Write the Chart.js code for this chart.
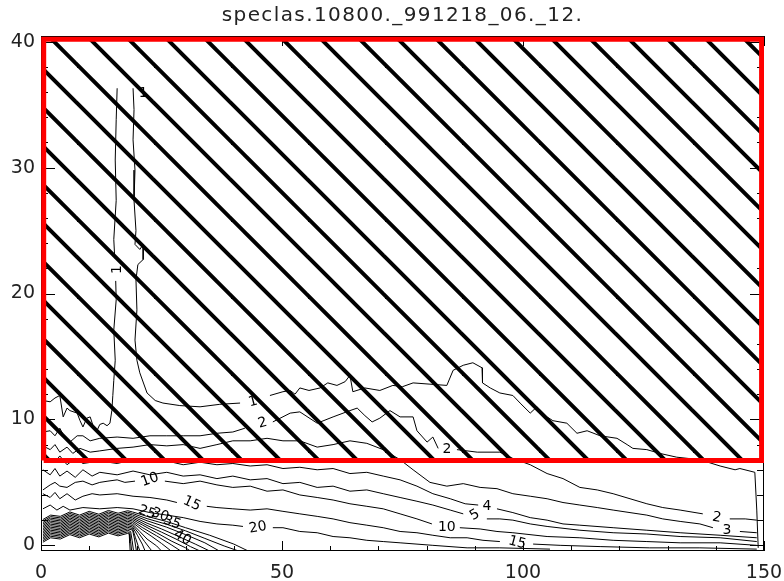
<!DOCTYPE html>
<html>
<head>
<meta charset="utf-8">
<title>speclas.10800._991218_06._12.</title>
<script src="https://cdn.jsdelivr.net/npm/chart.js@4.4.1/dist/chart.umd.min.js"></script>
<style>
  html, body { margin: 0; padding: 0; background: #ffffff; }
  #box { position: relative; width: 784px; height: 581px; }
</style>
</head>
<body>
<div id="box"><canvas id="contourChart" width="784" height="581"></canvas></div>
<script>
const chartTitle = 'speclas.10800._991218_06._12.';
const xTickValues = [0, 50, 100, 150];
const yTickValues = [0, 10, 20, 30, 40];

// masked (hatched) box
const maskX = [0.56, 149.5, 149.5, 0.56, 0.56];
const maskY = [6.74, 6.74, 40.2, 40.2, 6.74];

// contour lines, [x, y]; null breaks the line where a label sits
const contour1a = [[0.4,11.5],[1.9,11.4],[2.9,11.7],[3.9,11.9],[4.6,10.2],[5.4,10.9],[6.0,10.7],[7.5,10.5],[8.1,9.9],[8.7,9.4],[9.5,10.1],[10.2,10.2],[10.8,9.5],[11.6,9.1],[12.2,9.6],[12.9,9.7],[13.7,9.5],[14.3,9.7],[14.7,10.7],[14.9,11.9],[15.1,13.1],[15.4,14.7],[15.1,17.1],[15.6,19.5],[15.5,21.0],null,[15.3,22.8],[15.1,24.3],[15.6,27.4],[15.4,30.6],[15.6,33.8],[15.8,36.3]];
const contour1b = [[19.1,36.3],[19.3,34.6],[19.1,32.2],[19.5,29.8],[19.3,27.4],[19.7,25.0],[19.5,23.9],[20.5,23.5],[21.2,23.9],[21.2,22.7],[20.1,22.3],[19.7,21.1],[19.9,18.7],[19.5,16.3],[19.9,14.7],[20.5,13.7],[22.0,12.1],[23.7,11.5],[25.3,11.3],[28.8,11.1],[33.0,11.0],[37.1,11.2],[41.3,11.3],null,[47.5,11.9],[50.2,12.2],[51.7,12.3],[52.7,12.0],[53.7,12.5],[55.6,12.3],[57.9,12.5],[59.5,12.9],[61.4,12.7],[63.1,13.0],[64.1,13.5],[64.7,12.2],[67.2,12.5],[70.3,12.3],[73.0,12.7],[75.0,12.6],[77.2,12.9],[80.7,12.8],[84.2,12.7],[85.5,13.9],[87.6,14.3],[89.6,14.5],[91.5,14.1],[91.7,13.3],[91.5,12.9],[93.2,12.5],[95.2,12.1],[97.9,11.9],[99.4,11.3],[101.5,10.5],[102.9,11.0],[105.0,10.2],[106.2,9.9],[109.1,9.7],[111.2,8.9],[113.3,9.1],[116.0,8.7],[119.5,8.5],[121.6,8.0],[122.8,7.7],[125.7,7.6],[128.4,7.3],[131.9,7.0],[136.7,6.8],[140.9,6.3],[144.0,6.0],[145.0,6.1],[148.1,5.8],[148.5,2.8],[148.8,-0.2]];
const contour2 = [[0.4,9.0],[1.9,9.1],[2.9,8.7],[3.9,9.3],[5.0,8.5],[6.0,8.2],[7.5,8.7],[8.7,8.7],[10.2,8.3],[12.2,8.5],[15.8,8.6],[19.1,8.5],[22.6,8.7],[26.1,8.7],[29.5,8.7],[33.0,8.7],[36.5,8.9],[39.8,9.0],[42.3,9.3],null,[48.1,9.8],[51.7,10.5],[53.7,10.6],[57.3,9.7],[60.6,10.2],[64.1,10.7],[65.6,10.9],[67.2,10.3],[68.7,9.8],[70.3,10.1],[72.4,10.7],[74.5,10.2],[77.2,10.2],[78.0,9.1],[80.1,8.2],[81.3,8.6],[82.4,7.7],null,[86.3,7.6],[90.5,7.4],[95.2,7.4],[97.9,6.9],[101.5,6.4],[105.0,5.7],[108.3,5.3],[111.8,4.6],[115.4,4.4],[118.7,4.1],[122.2,3.7],[125.7,3.3],[129.0,3.0],[132.6,2.8],[137.3,2.5],null,[142.9,2.1],[146.1,2.1],[148.5,2.0]];
const contour3 = [[0.4,7.9],[1.9,7.6],[2.9,8.0],[3.9,7.4],[5.4,7.8],[6.6,7.3],[8.1,7.7],[10.2,7.4],[12.2,7.5],[15.8,7.7],[19.1,7.8],[22.6,8.0],[26.1,7.9],[29.5,8.0],[33.0,7.7],[36.5,8.0],[39.8,8.3],[43.4,8.3],[46.9,8.5],[50.2,8.3],[53.7,8.3],[57.3,7.8],[60.6,8.0],[64.1,8.3],[67.6,8.1],[71.0,7.6],[74.5,6.8],[77.2,6.0],[80.7,5.0],[84.2,4.7],[87.6,4.9],[91.1,4.6],[94.6,4.5],[97.9,4.1],[101.5,3.9],[105.0,3.7],[108.3,3.4],[111.8,3.2],[115.4,3.0],[118.7,2.8],[122.2,2.6],[125.7,2.4],[129.0,2.1],[132.6,1.9],[136.7,1.7],[139.4,1.4],null,[145.0,1.1],[148.5,1.0]];
const contour4 = [[0.4,6.9],[2.9,6.6],[3.9,7.1],[5.4,6.4],[7.1,6.9],[8.7,6.5],[12.2,6.7],[15.8,6.5],[19.1,6.8],[22.6,6.6],[26.1,6.7],[29.5,6.4],[33.0,6.6],[36.5,6.4],[39.8,6.5],[43.4,6.3],[46.9,6.4],[50.2,6.1],[53.7,6.2],[57.3,6.0],[60.6,6.1],[64.1,5.7],[67.6,5.8],[71.0,5.5],[74.5,5.2],[78.0,4.7],[81.3,4.1],[84.9,3.7],[88.0,3.3],[90.7,3.2],null,[94.6,2.9],[97.9,2.6],[101.5,2.2],[105.0,2.0],[108.3,1.7],[111.8,1.6],[118.7,1.4],[125.7,1.2],[132.6,1.0],[140.9,0.8],[148.5,0.6]];
const contour5 = [[0.4,6.0],[1.9,5.6],[2.9,6.1],[3.9,5.5],[5.4,5.9],[7.1,5.4],[8.7,6.0],[10.6,5.5],[12.2,5.8],[15.8,5.6],[19.1,5.9],[22.6,5.6],[26.1,5.8],[29.5,5.5],[33.0,5.6],[36.5,5.3],[39.8,5.5],[43.4,5.2],[46.9,5.3],[50.2,4.9],[53.7,5.0],[57.3,4.6],[60.6,4.7],[64.1,4.3],[67.6,4.4],[71.0,4.1],[74.5,3.8],[78.0,3.5],[81.3,3.2],[84.9,2.8],[87.6,2.5],null,[92.5,2.1],[95.2,2.1],[97.9,2.0],[101.5,1.7],[105.0,1.5],[111.8,1.2],[118.7,1.0],[125.7,0.9],[132.6,0.7],[140.9,0.6],[148.5,0.3]];
const contour10 = [[0.4,4.4],[1.9,4.8],[2.9,5.0],[3.9,4.7],[5.4,4.6],[7.1,5.0],[8.7,5.1],[10.6,4.8],[12.2,5.0],[13.9,5.1],[15.8,5.2],[17.4,5.0],[19.5,5.1],null,[25.7,5.1],[29.5,4.9],[33.0,5.1],[36.5,4.8],[39.8,4.6],[43.4,4.7],[46.9,4.3],[50.2,4.4],[53.7,4.0],[57.3,3.8],[60.6,3.6],[64.1,3.3],[67.6,3.1],[71.0,2.9],[74.5,2.5],[78.0,2.1],[81.1,1.7],null,[86.9,1.4],[91.1,1.3],[94.6,1.1],[97.9,1.0],[105.0,0.7],[111.8,0.6],[118.7,0.4],[125.7,0.3],[132.6,0.2],[140.9,0.2],[148.5,0.0]];
const contour15 = [[0.4,4.1],[1.9,3.8],[2.9,4.2],[3.9,3.7],[5.4,4.1],[7.1,3.6],[8.7,3.9],[10.6,4.1],[12.2,4.0],[15.8,4.1],[19.1,3.9],[22.6,3.8],[26.1,3.6],[28.2,3.4],null,[34.4,3.1],[36.5,3.0],[39.8,2.9],[43.4,2.8],[46.9,2.9],[50.2,2.7],[53.7,2.5],[57.3,2.3],[60.6,2.1],[64.1,1.8],[67.6,1.6],[71.0,1.4],[74.5,1.1],[78.0,1.0],[81.3,0.8],[84.9,0.6],[88.4,0.6],[91.7,0.4],[95.2,0.3],null,[102.1,0.1],[107.7,0.0],[116.0,-0.1],[126.3,-0.2],[136.7,-0.2],[148.5,-0.3]];
const contour20 = [[0.4,2.9],[1.9,3.2],[3.3,2.8],[4.6,3.1],[6.0,2.8],[8.7,3.0],[12.2,2.9],[15.8,3.0],[19.1,2.9],[22.6,2.6],[26.1,2.4],[29.5,2.2],[33.0,1.9],[36.5,1.7],[39.8,1.6],[41.9,1.5],null,[48.1,1.4],[50.2,1.4],[53.7,1.1],[57.3,1.0],[60.6,0.7],[64.1,0.6],[67.6,0.4],[71.0,0.3],[74.5,0.2],[81.3,0.0],[88.4,-0.2],[95.2,-0.2],[105.6,-0.3]];

// the packed contours near the bottom-left corner: a jagged block, then each line drops to the axis
const blockX = [0.4, 2, 4, 6, 8, 10, 12, 14, 16, 18];
const blockY = [
  [2.05, 2.40, 2.30, 2.65, 2.40, 2.70, 2.47, 2.77, 2.55, 2.75],
  [1.93, 2.28, 2.18, 2.53, 2.28, 2.58, 2.35, 2.65, 2.43, 2.63],
  [1.81, 2.16, 2.06, 2.41, 2.16, 2.46, 2.23, 2.53, 2.31, 2.51],
  [1.69, 2.04, 1.94, 2.29, 2.04, 2.34, 2.11, 2.41, 2.19, 2.39],
  [1.57, 1.92, 1.82, 2.17, 1.92, 2.22, 1.99, 2.29, 2.07, 2.27],
  [1.45, 1.80, 1.70, 2.05, 1.80, 2.10, 1.87, 2.17, 1.95, 2.15],
  [1.33, 1.68, 1.58, 1.93, 1.68, 1.98, 1.75, 2.05, 1.83, 2.03],
  [1.21, 1.56, 1.46, 1.81, 1.56, 1.86, 1.63, 1.93, 1.71, 1.91],
  [1.09, 1.44, 1.34, 1.69, 1.44, 1.74, 1.51, 1.81, 1.59, 1.79],
  [0.97, 1.32, 1.22, 1.57, 1.32, 1.62, 1.39, 1.69, 1.47, 1.67],
  [0.85, 1.20, 1.10, 1.45, 1.20, 1.50, 1.27, 1.57, 1.35, 1.55],
  [0.73, 1.08, 0.98, 1.33, 1.08, 1.38, 1.15, 1.45, 1.23, 1.43],
  [0.61, 0.96, 0.86, 1.21, 0.96, 1.26, 1.03, 1.33, 1.11, 1.31],
  [0.49, 0.84, 0.74, 1.09, 0.84, 1.14, 0.91, 1.21, 0.99, 1.19],
  [0.37, 0.72, 0.62, 0.97, 0.72, 1.02, 0.79, 1.09, 0.87, 1.07],
  [0.25, 0.60, 0.50, 0.85, 0.60, 0.90, 0.67, 0.97, 0.75, 0.95]
];
const blockTails = [
  [[19,2.65],[22,2.30],[26,1.90],[30,1.40],[35,0.80],[40,0.10],[43,-0.45]],
  [[19,2.53],[22,2.12],[26,1.68],[30,1.15],[34,0.55],[38,-0.05],[41,-0.45]],
  [[19,2.41],[22,1.95],[26,1.45],[30,0.85],[34,0.20],[37,-0.45]],
  [[19,2.29],[22,1.76],[25,1.30],[28,0.80],[32,0.10],[35,-0.45]],
  [[19,2.17],[22,1.58],[25,1.05],[28,0.50],[31,-0.10],[33,-0.45]],
  [[19,2.05],[21,1.62],[24,1.00],[27,0.35],[30,-0.20],[31,-0.45]],
  [[19,1.93],[21,1.42],[24,0.75],[27,0.05],[29,-0.45]],
  [[19,1.81],[21,1.22],[23,0.70],[25,0.15],[27,-0.45]],
  [[19,1.69],[20.5,1.10],[22,0.50],[24,-0.05],[25,-0.45]],
  [[19,1.57],[20.3,0.95],[21.5,0.30],[23,-0.45]],
  [[19,1.45],[20,0.80],[21,0.10],[21.6,-0.45]],
  [[19,1.33],[19.6,0.60],[20.2,-0.10],[20.5,-0.45]],
  [[19,1.21],[19.4,0.50],[19.8,-0.45]],
  [[18.6,1.10],[18.9,0.40],[19.2,-0.45]],
  [[18.4,1.00],[18.6,0.30],[18.8,-0.45]],
  [[18.3,0.90],[18.4,0.20],[18.5,-0.45]]
];

// contour labels
const labelText  = ['1', '1', '1', '2', '2', '2', '3', '4', '5', '10', '10', '15', '15', '20', '25', '30', '35', '40'];
const labelX     = [21.2, 15.8, 44.0, 46.0, 84.2, 140.2, 142.3, 92.5, 90.0, 22.6, 84.2, 31.3, 98.8, 45.0, 22.0, 24.7, 27.2, 29.3];
const labelY     = [35.9, 21.9, 11.4, 9.7, 7.6, 2.2, 1.2, 3.1, 2.4, 5.2, 1.4, 3.3, 0.2, 1.4, 2.6, 2.4, 1.8, 0.6];
const labelAngle = [0, -90, -15, -15, 0, 10, 0, 0, -30, -20, 0, 25, 15, -10, 20, 20, 20, 30];

const contours = [contour1a, contour1b, contour2, contour3, contour4, contour5, contour10, contour15, contour20];

function toPoints(list) {
  return list.map(p => p ? { x: p[0], y: p[1] } : { x: null, y: null });
}

const canvas = document.getElementById('contourChart');
const ctx = canvas.getContext('2d');

function hatchPattern() {
  const size = 77;
  const tile = document.createElement('canvas');
  tile.width = size;
  tile.height = size;
  const g = tile.getContext('2d');
  g.strokeStyle = '#000';
  g.lineWidth = 4;
  for (let k = -2; k <= 2; k++) {
    const off = k * size / 2;
    g.beginPath();
    g.moveTo(-10, -10 + off);
    g.lineTo(size + 10, size + 10 + off);
    g.stroke();
  }
  const p = ctx.createPattern(tile, 'repeat');
  p.setTransform(new DOMMatrix([1, 0, 0, 1, 0, 26]));
  return p;
}

const datasets = [{
  data: maskX.map((x, i) => ({ x, y: maskY[i] })),
  borderColor: '#ff0000',
  borderWidth: 5,
  backgroundColor: hatchPattern(),
  fill: 'shape'
}];
contours.forEach(c => datasets.push({ data: toPoints(c), borderColor: '#000', borderWidth: 1, fill: false }));
blockY.forEach((row, i) => datasets.push({
  data: blockX.map((x, j) => ({ x, y: row[j] })).concat(toPoints(blockTails[i])),
  borderColor: '#000', borderWidth: 1, fill: false
}));

const decor = {
  id: 'decor',
  beforeDatasetsDraw(chart) {
    const { ctx, chartArea: a, scales: { x, y } } = chart;
    ctx.save();
    ctx.strokeStyle = '#000';
    ctx.lineWidth = 1;
    ctx.strokeRect(a.left + 0.5, a.top + 0.5, a.right - a.left - 1, a.bottom - a.top - 1);
    ctx.beginPath();
    for (let v = 0; v <= 150; v += 10) {
      const px = Math.round(x.getPixelForValue(v)) + 0.5;
      const len = v % 50 === 0 ? 10 : 5;
      ctx.moveTo(px, a.bottom); ctx.lineTo(px, a.bottom - len);
      ctx.moveTo(px, a.top); ctx.lineTo(px, a.top + len);
    }
    for (let v = 0; v <= 40; v += 2) {
      const py = Math.round(y.getPixelForValue(v)) + 0.5;
      const len = v % 10 === 0 ? 14 : 7;
      ctx.moveTo(a.left, py); ctx.lineTo(a.left + len, py);
      ctx.moveTo(a.right, py); ctx.lineTo(a.right - len, py);
    }
    ctx.stroke();

    ctx.fillStyle = '#000';
    ctx.font = '14px "DejaVu Sans"';
    ctx.textAlign = 'center';
    ctx.textBaseline = 'middle';
    labelText.forEach((t, i) => {
      ctx.save();
      ctx.translate(x.getPixelForValue(labelX[i]), y.getPixelForValue(labelY[i]));
      ctx.rotate(labelAngle[i] * Math.PI / 180);
      ctx.fillText(t, 0, 0);
      ctx.restore();
    });
    ctx.restore();
  },
  afterDraw(chart) {
    const { ctx, chartArea: a } = chart;
    ctx.save();
    ctx.font = '20px "DejaVu Sans"';
    ctx.fillStyle = '#222';
    ctx.textAlign = 'center';
    ctx.textBaseline = 'alphabetic';
    ctx.letterSpacing = '1.4px';
    ctx.fillText(chartTitle, (a.left + a.right) / 2, 21);
    ctx.restore();
  }
};

Chart.defaults.font.family = '"DejaVu Sans", sans-serif';
Chart.defaults.color = '#222';

new Chart(ctx, {
  type: 'scatter',
  data: { datasets },
  options: {
    responsive: false,
    animation: false,
    events: [],
    showLine: true,
    spanGaps: false,
    layout: { autoPadding: false, padding: { top: 36, right: 20, left: 0, bottom: 0 } },
    elements: { point: { radius: 0, hoverRadius: 0 }, line: { tension: 0 } },
    plugins: {
      legend: { display: false },
      tooltip: { enabled: false },
      title: { display: false }
    },
    scales: {
      x: {
        type: 'linear', min: 0, max: 150,
        grid: { display: false, drawTicks: false },
        border: { display: false },
        ticks: { font: { size: 19 }, padding: 11, maxRotation: 0, autoSkip: false },
        afterBuildTicks: s => { s.ticks = xTickValues.map(v => ({ value: v })); },
        afterFit: s => { s.height = 30; s.paddingLeft = 0; s.paddingRight = 0; }
      },
      y: {
        type: 'linear', min: -0.45, max: 40.45,
        grid: { display: false, drawTicks: false },
        border: { display: false },
        ticks: { font: { size: 19 }, padding: 6, autoSkip: false },
        afterBuildTicks: s => { s.ticks = yTickValues.map(v => ({ value: v })); },
        afterFit: s => { s.width = 41; s.paddingTop = 0; s.paddingBottom = 0; }
      }
    }
  },
  plugins: [decor]
});
</script>
</body>
</html>
